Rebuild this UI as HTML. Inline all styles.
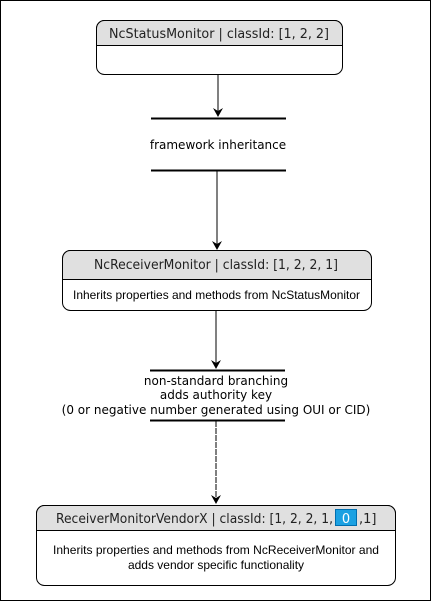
<!DOCTYPE html><html><head><style>
body{margin:0;width:431px;height:601px;background:#fff;font-family:"DejaVu Sans","Liberation Sans",sans-serif;}
svg{position:absolute;left:0;top:0}
</style></head><body>
<svg width="431" height="601">
<defs><marker id="ah" markerWidth="10" markerHeight="10" refX="8" refY="5" orient="auto" markerUnits="userSpaceOnUse"><path d="M0,0 L9,5 L0,10 L3,5 Z" fill="#000"/></marker></defs>
<rect x="0.5" y="0.5" width="430" height="600" fill="#fff" stroke="#000"/>
<g>
<rect x="96.5" y="20.5" width="246" height="54" rx="8" fill="#fff" stroke="#000"/>
<path d="M96.5,45.5 V28.5 a8,8 0 0 1 8,-8 H334.5 a8,8 0 0 1 8,8 V45.5 Z" fill="#e0e0e0" stroke="#000"/>
<text x="109" y="38" font-size="13" textLength="220" lengthAdjust="spacingAndGlyphs" fill="#222">NcStatusMonitor | classId: [1, 2, 2]</text>
</g>
<line x1="218" y1="75" x2="218" y2="116" stroke="#000" marker-end="url(#ah)"/>
<line x1="151" y1="118.5" x2="286" y2="118.5" stroke="#000" stroke-width="2"/>
<text x="218" y="149" font-size="12" text-anchor="middle">framework inheritance</text>
<line x1="151" y1="170.5" x2="286" y2="170.5" stroke="#000" stroke-width="2"/>
<line x1="217" y1="171" x2="217" y2="249" stroke="#000" marker-end="url(#ah)"/>
<g>
<rect x="62.5" y="250.5" width="309" height="60" rx="8" fill="#fff" stroke="#000"/>
<path d="M62.5,279.5 V258.5 a8,8 0 0 1 8,-8 H363.5 a8,8 0 0 1 8,8 V279.5 Z" fill="#e0e0e0" stroke="#000"/>
<text x="94" y="269" font-size="13" textLength="244" lengthAdjust="spacingAndGlyphs" fill="#222">NcReceiverMonitor | classId: [1, 2, 2, 1]</text>
<text x="73" y="299" font-size="12" font-family="Liberation Sans" textLength="287" lengthAdjust="spacingAndGlyphs">Inherits properties and methods from NcStatusMonitor</text>
</g>
<line x1="216" y1="311" x2="216" y2="368" stroke="#000" marker-end="url(#ah)"/>
<line x1="150" y1="370.5" x2="285" y2="370.5" stroke="#000" stroke-width="2"/>
<g font-size="12" text-anchor="middle">
<text x="216" y="385">non-standard branching</text>
<text x="216" y="399">adds authority key</text>
<text x="216" y="414">(0 or negative number generated using OUI or CID)</text>
</g>
<line x1="150" y1="420.5" x2="285" y2="420.5" stroke="#000" stroke-width="2"/>
<line x1="216" y1="421" x2="216" y2="503" stroke="#000" stroke-dasharray="6,1" marker-end="url(#ah)"/>
<g>
<rect x="36.5" y="505.5" width="359" height="80" rx="8" fill="#fff" stroke="#000"/>
<path d="M36.5,530.5 V513.5 a8,8 0 0 1 8,-8 H387.5 a8,8 0 0 1 8,8 V530.5 Z" fill="#e0e0e0" stroke="#000"/>
<rect x="335.5" y="509.5" width="21" height="16" fill="#1ba1e2" stroke="#006eaf"/>
<text x="56" y="523" font-size="13" textLength="277" lengthAdjust="spacingAndGlyphs" fill="#222">ReceiverMonitorVendorX | classId: [1, 2, 2, 1,</text>
<text x="346" y="523" font-size="13" fill="#fff" text-anchor="middle">0</text>
<text x="359" y="523" font-size="13" fill="#222">,1]</text>
<text x="53" y="554" font-size="12" font-family="Liberation Sans" textLength="326" lengthAdjust="spacingAndGlyphs">Inherits properties and methods from NcReceiverMonitor and</text>
<text x="216" y="569" font-size="12" font-family="Liberation Sans" text-anchor="middle">adds vendor specific functionality</text>
</g>
</svg>
</body></html>
